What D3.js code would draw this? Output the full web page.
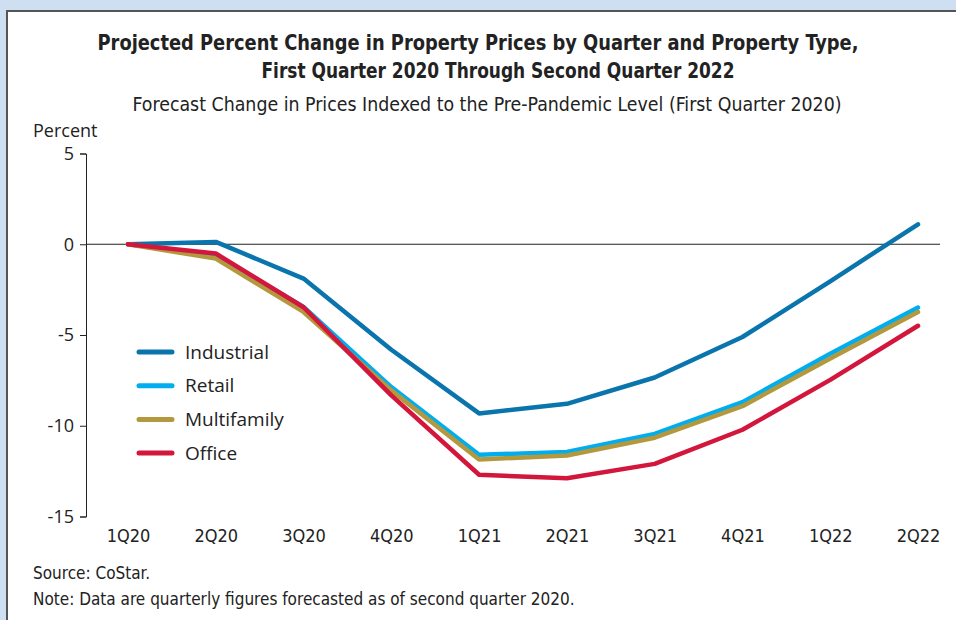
<!DOCTYPE html>
<html>
<head>
<meta charset="utf-8">
<script src="https://cdn.jsdelivr.net/npm/d3@7"></script>
<style>
  body { margin: 0; background: #cddff0; }
  svg { display: block; }
</style>
</head>
<body>
<svg width="956" height="620"></svg>
<script>
const quarters = ['1Q20', '2Q20', '3Q20', '4Q20', '1Q21', '2Q21', '3Q21', '4Q21', '1Q22', '2Q22'];
const industrial = [0, 0.13, -1.89, -5.81, -9.32, -8.79, -7.34, -5.11, -2.04, 1.1];
const retail = [0, -0.6, -3.45, -7.87, -11.6, -11.45, -10.45, -8.7, -6.03, -3.49];
const multifamily = [0, -0.79, -3.73, -8.05, -11.86, -11.64, -10.66, -8.92, -6.3, -3.73];
const office = [0, -0.51, -3.47, -8.33, -12.7, -12.89, -12.1, -10.22, -7.47, -4.49];
const yTicks = [5, 0, -5, -10, -15];

const seriesNames = ['Industrial', 'Retail', 'Multifamily', 'Office'];
const seriesValues = [industrial, retail, multifamily, office];
const colors = ['#0a74ad', '#00adee', '#b3983e', '#d3163b'];

const svg = d3.select('svg');

// panel
svg.append('rect')
    .attr('x', 7).attr('y', 11)
    .attr('width', 960).attr('height', 620)
    .attr('fill', '#fff')
    .attr('stroke', '#555')
    .attr('stroke-width', 2);

const condensed = '"Liberation Sans Narrow", "DejaVu Sans Condensed", sans-serif';
const regular = '"Source Sans Pro", "Open Sans", sans-serif';

svg.append('text')
    .attr('x', 478).attr('y', 50)
    .attr('text-anchor', 'middle')
    .attr('textLength', 761)
    .attr('lengthAdjust', 'spacingAndGlyphs')
    .style('font-family', condensed)
    .style('font-weight', 'bold')
    .style('font-size', '22px')
    .attr('fill', '#222')
    .text('Projected Percent Change in Property Prices by Quarter and Property Type,');
svg.append('text')
    .attr('x', 498).attr('y', 78)
    .attr('text-anchor', 'middle')
    .attr('textLength', 473)
    .attr('lengthAdjust', 'spacingAndGlyphs')
    .style('font-family', condensed)
    .style('font-weight', 'bold')
    .style('font-size', '22px')
    .attr('fill', '#222')
    .text('First Quarter 2020 Through Second Quarter 2022');
svg.append('text')
    .attr('x', 487).attr('y', 111)
    .attr('text-anchor', 'middle')
    .attr('textLength', 709)
    .attr('lengthAdjust', 'spacingAndGlyphs')
    .style('font-family', condensed)
    .style('font-size', '19px')
    .attr('fill', '#222')
    .text('Forecast Change in Prices Indexed to the Pre-Pandemic Level (First Quarter 2020)');

const x = d3.scalePoint()
    .domain(quarters)
    .range([128, 918]);
const y = d3.scaleLinear()
    .domain([-15, 5])
    .range([516.5, 153.5]);

const chart = svg.append('g');

// y axis
const yAxis = d3.axisLeft(y)
    .tickValues(yTicks)
    .tickSize(6)
    .tickFormat(d => String(d));
const yAxisG = chart.append('g')
    .attr('transform', 'translate(86, 0)')
    .call(yAxis);
yAxisG.select('.domain').attr('stroke', '#222');
yAxisG.selectAll('.tick line').attr('stroke', '#222');
yAxisG.selectAll('.tick text')
    .attr('x', -12)
    .style('font-family', regular)
    .style('font-size', '18px')
    .attr('fill', '#222');

svg.append('text')
    .attr('x', 33).attr('y', 137)
    .style('font-family', regular)
    .style('font-size', '18px')
    .attr('fill', '#222')
    .text('Percent');

// zero line
chart.append('line')
    .attr('x1', 86).attr('x2', 940)
    .attr('y1', y(0)).attr('y2', y(0))
    .attr('stroke', '#222')
    .attr('stroke-width', 1);

// x labels
const xAxis = d3.axisBottom(x).tickSize(0);
const xAxisG = chart.append('g')
    .attr('transform', 'translate(0, 526)')
    .call(xAxis);
xAxisG.select('.domain').remove();
xAxisG.selectAll('.tick text')
    .style('font-family', condensed)
    .style('font-size', '18px')
    .attr('fill', '#222');

// lines
const line = d3.line()
    .x((d, i) => x(quarters[i]))
    .y(d => y(d));

seriesValues.forEach((vals, k) => {
  chart.append('path')
      .attr('d', line(vals))
      .attr('fill', 'none')
      .attr('stroke', colors[k])
      .attr('stroke-width', 4.5)
      .attr('stroke-linecap', 'round')
      .attr('stroke-linejoin', 'round');
});

// legend
const legend = chart.append('g');
seriesNames.forEach((name, k) => {
  const ly = 352 + k * 33.7;
  legend.append('line')
      .attr('x1', 139).attr('x2', 172)
      .attr('y1', ly).attr('y2', ly)
      .attr('stroke', colors[k])
      .attr('stroke-width', 5)
      .attr('stroke-linecap', 'round');
  legend.append('text')
      .attr('x', 185).attr('y', ly + 6.5)
      .style('font-family', regular)
      .style('font-size', '19px')
      .attr('fill', '#222')
      .text(name);
});

// notes
svg.append('text')
    .attr('x', 33).attr('y', 579)
    .style('font-family', condensed)
    .style('font-size', '17px')
    .attr('fill', '#222')
    .text('Source: CoStar.');
svg.append('text')
    .attr('x', 33).attr('y', 605)
    .style('font-family', condensed)
    .style('font-size', '17px')
    .attr('fill', '#222')
    .text('Note: Data are quarterly figures forecasted as of second quarter 2020.');
</script>
</body>
</html>
